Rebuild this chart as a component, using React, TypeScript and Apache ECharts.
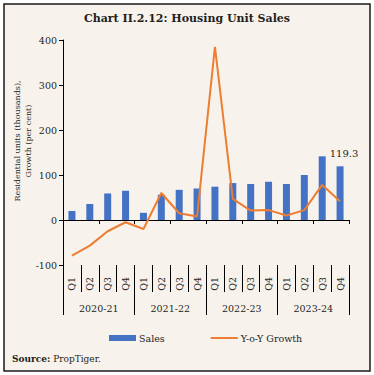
import React, { useEffect, useRef } from "react";
import * as echarts from "echarts";

const quarters = ["Q1", "Q2", "Q3", "Q4", "Q1", "Q2", "Q3", "Q4", "Q1", "Q2", "Q3", "Q4", "Q1", "Q2", "Q3", "Q4"];
const years = ["2020-21", "2021-22", "2022-23", "2023-24"];
const sales = [20, 35.5, 59, 65, 16, 56, 67, 70, 74, 82, 80, 85, 80, 100, 141.5, 119.3];
const growth = [-79, -57, -25, -5, -20, 60, 15, 8, 385, 47, 21, 22, 10, 22, 78, 41.5];
const yTicks = { min: -100, max: 400, interval: 100 };

const FONT = "DejaVu Serif";
const TEXT = "#231f20";

export default function App() {
  const ref = useRef<HTMLDivElement>(null);
  useEffect(() => {
    const chart = echarts.init(ref.current!, undefined, { renderer: "svg" });
    const lastIdx = sales.length - 1;
    chart.setOption({
      animation: false,
      backgroundColor: "#ffffff",
      textStyle: { fontFamily: FONT, color: TEXT },
      graphic: [
        {
          type: "rect",
          shape: { x: 4, y: 4, width: 366, height: 367 },
          style: { fill: "#f8f2ed", stroke: "#1a1a1a", lineWidth: 1.5 },
          z: -10,
        },
        {
          type: "text",
          x: 187,
          y: 18,
          style: {
            text: "Chart II.2.12: Housing Unit Sales",
            font: `bold 11px "${FONT}"`,
            fill: TEXT,
            textAlign: "center",
            textVerticalAlign: "middle",
          },
        },
        {
          type: "text",
          x: 23,
          y: 141,
          rotation: Math.PI / 2,
          style: {
            text: "Residential units (thousands),\nGrowth (per cent)",
            font: `8px "${FONT}"`,
            fill: TEXT,
            textAlign: "center",
            textVerticalAlign: "middle",
            lineHeight: 11,
          },
        },
        {
          type: "text",
          x: 12,
          y: 359,
          style: {
            text: "{b|Source:} PropTiger.",
            font: `9px "${FONT}"`,
            fill: TEXT,
            textVerticalAlign: "middle",
            rich: {
              b: { fontWeight: "bold", fontFamily: FONT, fontSize: 9, fill: TEXT },
            },
          },
        },
      ],
      grid: { left: 63, right: 25, top: 40, bottom: 110, containLabel: false },
      legend: {
        left: 109,
        top: 333,
        padding: 0,
        itemWidth: 27,
        itemHeight: 6,
        itemGap: 45,
        textStyle: { fontFamily: FONT, fontSize: 9.5, color: TEXT, padding: [0, 0, 0, -2] },
        data: [
          { name: "Sales", icon: "rect" },
          { name: "Y-o-Y Growth", itemStyle: { opacity: 0 } },
        ],
      },
      xAxis: [
        {
          type: "category",
          data: quarters,
          position: "bottom",
          axisLine: { show: true, onZero: true, lineStyle: { color: "#000", width: 1 } },
          axisTick: { show: true, length: 4, lineStyle: { color: "#000" } },
          axisLabel: { show: false },
        },
        {
          type: "category",
          data: quarters,
          position: "bottom",
          axisLine: { show: false, onZero: false },
          axisTick: { show: true, length: 27, lineStyle: { color: "#000" } },
          axisLabel: {
            show: true,
            rotate: 90,
            margin: 12,
            fontFamily: FONT,
            fontSize: 9.5,
            color: TEXT,
          },
        },
        {
          type: "category",
          data: years,
          position: "bottom",
          axisLine: { show: false, onZero: false },
          axisTick: { show: true, length: 50, lineStyle: { color: "#000" } },
          axisLabel: { show: true, margin: 38, fontFamily: FONT, fontSize: 9.5, color: TEXT },
        },
      ],
      yAxis: {
        type: "value",
        min: yTicks.min,
        max: yTicks.max,
        interval: yTicks.interval,
        axisLine: { show: true, lineStyle: { color: "#000", width: 1 } },
        axisTick: { show: true, length: 4, lineStyle: { color: "#000" } },
        axisLabel: { margin: 6, fontFamily: FONT, fontSize: 9.5, color: TEXT },
        splitLine: { show: false },
      },
      series: [
        {
          name: "Sales",
          type: "bar",
          xAxisIndex: 0,
          barWidth: 7,
          itemStyle: { color: "#4472c4" },
          data: sales.map((v, i) =>
            i === lastIdx
              ? {
                  value: v,
                  label: {
                    show: true,
                    position: "top",
                    distance: 8,
                    offset: [4, 0],
                    formatter: "{c}",
                    fontFamily: FONT,
                    fontSize: 10,
                    color: TEXT,
                  },
                }
              : v
          ),
        },
        {
          name: "Y-o-Y Growth",
          type: "line",
          xAxisIndex: 0,
          symbol: "none",
          lineStyle: { color: "#ed7d31", width: 2 },
          itemStyle: { color: "#ed7d31" },
          data: growth,
          z: 3,
        },
      ],
    });
    return () => chart.dispose();
  }, []);
  return (
    <div
      ref={ref}
      style={{ position: "fixed", left: 0, top: 0, width: 374, height: 375 }}
    />
  );
}
